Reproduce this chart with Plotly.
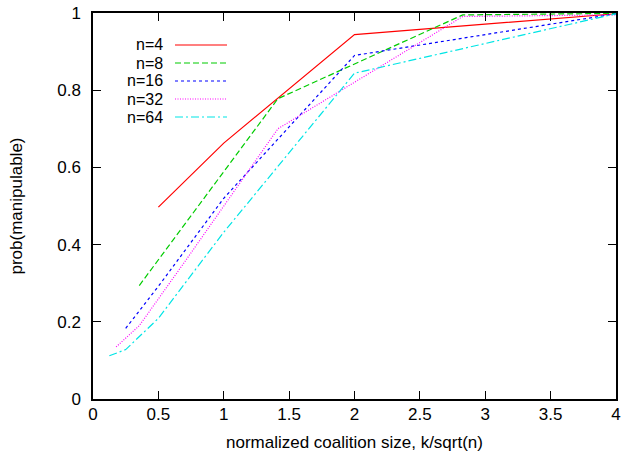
import plotly.graph_objects as go

# data: x = k/sqrt(n), y = prob(manipulable)
x_n4 = [0.5, 1.0, 2.0, 4.0]
y_n4 = [0.497, 0.663, 0.944, 0.998]

x_n8 = [0.354, 0.707, 1.414, 2.828, 4.0]
y_n8 = [0.294, 0.455, 0.778, 0.995, 0.999]

x_n16 = [0.25, 0.5, 1.0, 2.0, 4.0]
y_n16 = [0.183, 0.292, 0.52, 0.89, 0.998]

x_n32 = [0.177, 0.354, 0.707, 1.414, 2.828, 4.0]
y_n32 = [0.135, 0.19, 0.358, 0.70, 0.991, 0.995]

x_n64 = [0.125, 0.25, 0.5, 1.0, 2.0, 4.0]
y_n64 = [0.112, 0.128, 0.209, 0.432, 0.844, 0.998]

labels = ["n=4", "n=8", "n=16", "n=32", "n=64"]
colors = ["#ff0000", "#00cc00", "#0000ff", "#ff00ff", "#00e5e5"]
dashes = ["solid", "6px,3px", "3px,3px", "1px,1.5px", "8px,3px,2px,3px"]

xs = [x_n4, x_n8, x_n16, x_n32, x_n64]
ys = [y_n4, y_n8, y_n16, y_n32, y_n64]

x_ticks = [0, 0.5, 1, 1.5, 2, 2.5, 3, 3.5, 4]
y_ticks = [0, 0.2, 0.4, 0.6, 0.8, 1]

FONT = "Liberation Sans, Arial, sans-serif"
FS = 17

fig = go.Figure()
for x, y, lab, c, d in zip(xs, ys, labels, colors, dashes):
    fig.add_trace(go.Scatter(x=x, y=y, mode="lines", name=lab,
                             line=dict(color=c, width=1.2, dash=d),
                             showlegend=False))

W, H = 621, 455
L, T = 93, 13
R, B = W - 616, H - 399
pw, ph = W - L - R, H - T - B

# manual gnuplot-style legend (paper coords), positions given in page pixels
leg_y_px = [45, 63, 81, 99, 117]
text_right_px = 164
line_x0_px, line_x1_px = 175, 227
for lab, c, d, yp in zip(labels, colors, dashes, leg_y_px):
    yy = 1 - (yp - T) / ph
    fig.add_annotation(x=(text_right_px - L) / pw, y=yy, xref="paper", yref="paper",
                       text=lab, showarrow=False, xanchor="right", yanchor="middle",
                       borderpad=0, font=dict(family=FONT, size=16, color="black"))
    fig.add_shape(type="line", xref="paper", yref="paper",
                  x0=(line_x0_px - L) / pw, x1=(line_x1_px - L) / pw, y0=yy, y1=yy,
                  line=dict(color=c, width=1.2, dash=d))

axis_common = dict(showgrid=False, zeroline=False, showline=True, linecolor="black",
                   linewidth=1.5, mirror="allticks", ticks="inside", ticklen=8,
                   tickcolor="black", tickwidth=1, automargin=False,
                   ticklabeloverflow="allow",
                   tickfont=dict(family=FONT, size=FS, color="black"))

fig.update_xaxes(range=[0, 4], tickvals=x_ticks, ticktext=[f"{v:g}" for v in x_ticks],
                 ticklabelstandoff=-1,
                 title=dict(text="normalized coalition size, k/sqrt(n)", standoff=13,
                            font=dict(family=FONT, size=FS, color="black")),
                 **axis_common)
fig.update_yaxes(range=[0, 1], tickvals=y_ticks, ticktext=[f"{v:g}" for v in y_ticks],
                 ticklabelstandoff=7,
                 title=dict(text="prob(manipulable)", standoff=30,
                            font=dict(family=FONT, size=FS, color="black")),
                 **axis_common)

fig.update_layout(width=W, height=H, margin=dict(l=L, r=R, t=T, b=B),
                  plot_bgcolor="white", paper_bgcolor="white", showlegend=False)

fig.write_html("out.html", config={"displayModeBar": False},
               post_script="document.body.style.margin='0';")
